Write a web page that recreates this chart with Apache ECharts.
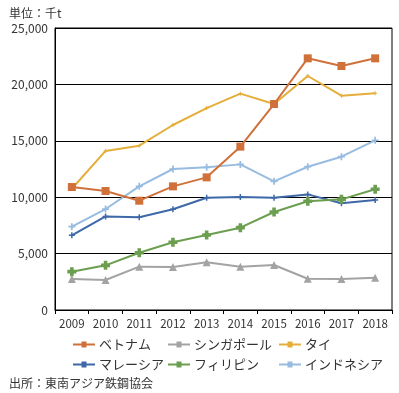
<!DOCTYPE html>
<html><head><meta charset="utf-8">
<script src="https://cdn.jsdelivr.net/npm/echarts@6/dist/echarts.min.js"></script>
<style>html,body{margin:0;padding:0;background:#fff}#c{width:399px;height:393px}</style>
</head><body><div id="c"></div>
<script>
const categories = ['2009','2010','2011','2012','2013','2014','2015','2016','2017','2018'];
const vietnam    = [10900,10550,9690,10960,11760,14480,18260,22310,21630,22310];
const singapore  = [2750,2660,3840,3810,4230,3840,3990,2770,2750,2860];
const thailand   = [10750,14100,14570,16400,17900,19180,18260,20745,19000,19210];
const malaysia   = [6620,8300,8220,8930,9950,10020,9960,10250,9460,9750];
const philippines= [3400,3960,5080,6000,6650,7300,8690,9640,9810,10700];
const indonesia  = [7390,8950,10960,12500,12650,12910,11410,12700,13590,15040];
const yTicks = [0,5000,10000,15000,20000,25000];

const FONT = '"Noto Sans CJK JP", "Noto Sans", sans-serif';
const plus = 'path://M-1,-4H1V-1H4V1H1V4H-1V1H-4V-1H-1Z';
const fatPlus = 'path://M-1.6,-4H1.6V-1.6H4V1.6H1.6V4H-1.6V1.6H-4V-1.6H-1.6Z';

const defs = [
  {name:'ベトナム', data:vietnam, color:'#D0703A', symbol:'rect', size:8},
  {name:'シンガポール', data:singapore, color:'#A3A3A3', symbol:'triangle', size:8},
  {name:'タイ', data:thailand, color:'#E5AE3A', symbol:plus, size:4},
  {name:'マレーシア', data:malaysia, color:'#3E68A8', symbol:plus, size:6},
  {name:'フィリピン', data:philippines, color:'#6C9E4F', symbol:fatPlus, size:9},
  {name:'インドネシア', data:indonesia, color:'#98BCE0', symbol:plus, size:7}
];
const order = [2,5,3,4,1,0];
const series = order.map(i => {
  const d = defs[i];
  return {name:d.name, type:'line', data:d.data, symbol:d.symbol, symbolSize:d.size,
    showSymbol:true, itemStyle:{color:d.color}, lineStyle:{color:d.color,width:2}, animation:false};
});
const legPos = [[68,333],[163,333],[274,333],[68,353],[163,353],[274,353]];
const legends = defs.map((d,i)=>({
  data:[d.name], left:legPos[i][0], top:legPos[i][1], itemWidth:22, itemHeight:8, itemGap:0,
  icon:'path://M0,3.5H22V5.5H0Z M8.5,1.5H13.5V7.5H8.5Z',
  textStyle:{fontFamily:FONT,fontSize:13,color:'#333',padding:[0,0,0,-1]}, selectedMode:false
}));
const chart = echarts.init(document.getElementById('c'));
chart.setOption({
  backgroundColor:'#fff',
  animation:false,
  title:[
    {text:'単位：千t', left:4, top:2, textStyle:{fontFamily:FONT,fontSize:12,fontWeight:'normal',color:'#333'}},
    {text:'出所：東南アジア鉄鋼協会', left:4, top:372, textStyle:{fontFamily:FONT,fontSize:12,fontWeight:'normal',color:'#333'}}
  ],
  legend:legends,
  grid:{left:55,right:7,top:28,bottom:83,show:true,borderColor:'#000',borderWidth:1,backgroundColor:'transparent'},
  xAxis:{type:'category',data:categories,boundaryGap:true,
    axisLine:{lineStyle:{color:'#000',width:1}},
    axisTick:{show:true,length:4,inside:false,interval:0,lineStyle:{color:'#000'}},
    axisLabel:{fontFamily:FONT,fontSize:11.5,color:'#333',margin:8,interval:0,hideOverlap:false}},
  yAxis:{type:'value',min:0,max:25000,interval:5000,
    axisLine:{show:true,lineStyle:{color:'#000'}},
    axisTick:{show:false},
    splitLine:{lineStyle:{color:'#000',width:1}},
    axisLabel:{fontFamily:FONT,fontSize:12,color:'#333',margin:7,
      formatter:v=>yTicks.includes(v)?v.toLocaleString('en-US'):''}},
  series:series
});
</script></body></html>
